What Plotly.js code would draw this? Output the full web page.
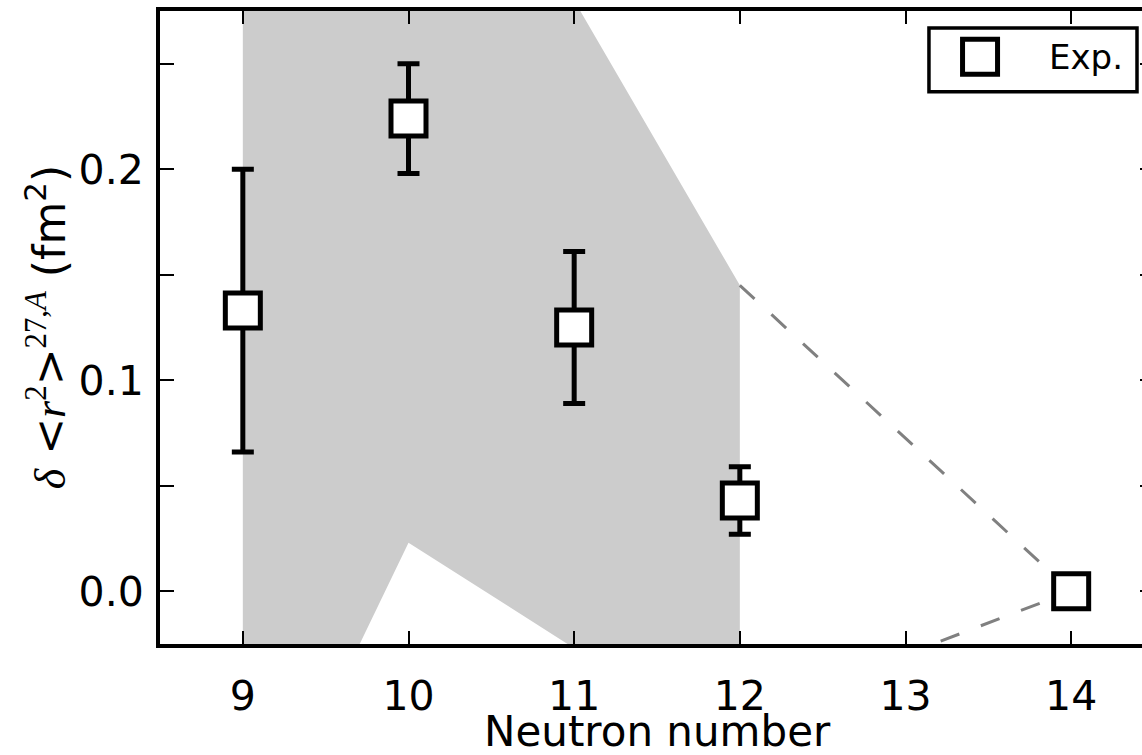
<!DOCTYPE html>
<html>
<head>
<meta charset="utf-8">
<script src="https://cdn.plot.ly/plotly-3.0.1.min.js"></script>
<style>
html,body{margin:0;padding:0;overflow:hidden;background:#fff;}
#chart{width:1160px;height:755px;}
</style>
</head>
<body>
<div id="chart"></div>
<script>
// Experimental data
const neutron = [9, 10, 11, 12, 14];
const drExp = [0.133, 0.224, 0.125, 0.043, 0.0];
const drErr = [0.067, 0.026, 0.036, 0.016, 0.0];

// Theory band (grey)
const bandN = [9, 10, 11, 12];
const bandUpper = [0.42, 0.36, 0.28, 0.145];
const bandLower = [-0.14, 0.023, -0.027, -0.06];

// Dashed extrapolation
const extN = [12, 14];
const extUpper = [0.145, 0.0];
const extLower = [-0.06, 0.0];

// Ticks
const xTicks = [9, 10, 11, 12, 13, 14];
const yTickVals = [0.0, 0.05, 0.1, 0.15, 0.2, 0.25];
const yTickText = ['0.0', '', '0.1', '', '0.2', ''];

const bandX = bandN.concat(bandN.slice().reverse());
const bandY = bandUpper.concat(bandLower.slice().reverse());

const traces = [
  {x: bandX, y: bandY, type: 'scatter', mode: 'lines', fill: 'toself',
   fillcolor: '#cccccc', line: {width: 0, color: '#cccccc'}, showlegend: false, hoverinfo: 'skip'},
  {x: extN, y: extUpper, type: 'scatter', mode: 'lines',
   line: {color: '#808080', width: 3, dash: '20px,23px'}, showlegend: false},
  {x: extN, y: extLower, type: 'scatter', mode: 'lines',
   line: {color: '#808080', width: 3, dash: '20px,23px'}, showlegend: false},
  {x: neutron, y: drExp, type: 'scatter', mode: 'markers', name: 'Exp.',
   error_y: {type: 'data', array: drErr, visible: true, color: '#000', thickness: 5, width: 11},
   marker: {symbol: 'square', size: 35, color: '#fff', line: {color: '#000', width: 5}},
   cliponaxis: false, showlegend: false}
];

const F = 'DejaVu Sans';
const M = "'Liberation Serif'";
const yTitle = `<span style="font-family:${M}"><i>δ</i></span> &lt;<span style="font-family:${M}"><i>r</i></span><sup><span style="font-family:${M}">2</span></sup>&gt;<sup><span style="font-family:${M}">27,<i>A</i></span></sup> (fm<sup>2</sup>)`;

const layout = {
  width: 1160, height: 755,
  margin: {l: 160, r: 6, t: 11, b: 111},
  paper_bgcolor: '#fff', plot_bgcolor: '#fff',
  font: {family: F, color: '#000'},
  showlegend: false,
  xaxis: {
    range: [8.5, 14.5], tickmode: 'array', tickvals: xTicks, ticktext: xTicks.map(String),
    ticks: 'inside', ticklen: 13, tickwidth: 2, tickcolor: '#000',
    showline: true, linewidth: 4, linecolor: '#000', mirror: 'ticks',
    showgrid: false, zeroline: false, tickfont: {family: F, size: 41, color: '#000'},
    ticklabelstandoff: 13
  },
  yaxis: {
    range: [-0.025, 0.275], tickmode: 'array', tickvals: yTickVals, ticktext: yTickText,
    ticks: 'inside', ticklen: 14, tickwidth: 2, tickcolor: '#000',
    showline: true, linewidth: 4, linecolor: '#000', mirror: 'ticks',
    showgrid: false, zeroline: false, tickfont: {family: F, size: 41, color: '#000'},
    ticklabelstandoff: 4
  },
  shapes: [
    {type: 'rect', xref: 'paper', yref: 'paper', x0: 0.7736, x1: 0.9829, y0: 0.8724, y1: 0.9732,
     line: {color: '#000', width: 3.5}, fillcolor: '#fff', layer: 'above'},
    {type: 'rect', xref: 'paper', yref: 'paper', xsizemode: 'pixel', ysizemode: 'pixel',
     xanchor: 0.825, yanchor: 0.9276, x0: -17.5, x1: 17.5, y0: -17.5, y1: 17.5,
     line: {color: '#000', width: 5}, fillcolor: '#fff', layer: 'above'}
  ],
  annotations: [
    {text: 'Exp.', xref: 'paper', yref: 'paper', x: 0.8924, y: 0.9276, xanchor: 'left', yanchor: 'middle',
     showarrow: false, font: {family: F, size: 34, color: '#000'}},
    {text: 'Neutron number', xref: 'paper', yref: 'paper', x: 0.5, y: -0.097, xanchor: 'center', yanchor: 'top',
     showarrow: false, font: {family: F, size: 42, color: '#000'}},
    {text: yTitle, xref: 'paper', yref: 'paper', x: -0.115, y: 0.5, xanchor: 'center', yanchor: 'middle',
     textangle: -90, showarrow: false, font: {family: F, size: 44, color: '#000'}}
  ]
};

Plotly.newPlot('chart', traces, layout, {staticPlot: true, displayModeBar: false});
</script>
</body>
</html>
